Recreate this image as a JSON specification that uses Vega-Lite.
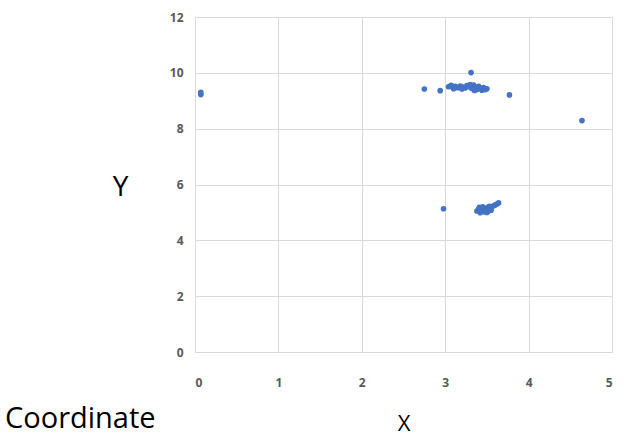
{
  "$schema": "https://vega.github.io/schema/vega-lite/v6.json",
  "width": 417,
  "height": 335,
  "autosize": {"type": "none"},
  "padding": {"left": 195, "top": 17, "right": 14, "bottom": 84},
  "background": "white",
  "config": {
    "view": {"stroke": "#d9d9d9", "strokeWidth": 1},
    "font": "Open Sans"
  },
  "title": {
    "text": "Coordinate",
    "orient": "bottom",
    "anchor": "start",
    "frame": "group",
    "dx": -190,
    "offset": -29,
    "fontSize": 29,
    "fontWeight": "normal",
    "color": "#000000",
    "font": "Open Sans"
  },
  "data": {
    "values": [
      {"x": 0.07, "y": 9.22}, {"x": 0.07, "y": 9.30},
      {"x": 2.75, "y": 9.42}, {"x": 2.94, "y": 9.36}, {"x": 3.31, "y": 10.01}, {"x": 3.77, "y": 9.21}, {"x": 4.64, "y": 8.29},
      {"x": 3.04, "y": 9.50}, {"x": 3.07, "y": 9.55}, {"x": 3.09, "y": 9.48}, {"x": 3.12, "y": 9.52}, {"x": 3.15, "y": 9.47},
      {"x": 3.18, "y": 9.53}, {"x": 3.21, "y": 9.49}, {"x": 3.24, "y": 9.46}, {"x": 3.26, "y": 9.54}, {"x": 3.29, "y": 9.50},
      {"x": 3.32, "y": 9.44}, {"x": 3.34, "y": 9.56}, {"x": 3.36, "y": 9.48}, {"x": 3.38, "y": 9.40}, {"x": 3.40, "y": 9.52},
      {"x": 3.42, "y": 9.45}, {"x": 3.44, "y": 9.38}, {"x": 3.46, "y": 9.47}, {"x": 3.48, "y": 9.40}, {"x": 3.50, "y": 9.43},
      {"x": 3.30, "y": 9.58}, {"x": 3.20, "y": 9.42}, {"x": 3.10, "y": 9.43}, {"x": 3.35, "y": 9.37},
      {"x": 2.98, "y": 5.13},
      {"x": 3.38, "y": 5.05}, {"x": 3.40, "y": 5.12}, {"x": 3.42, "y": 4.99}, {"x": 3.44, "y": 5.08}, {"x": 3.46, "y": 5.15},
      {"x": 3.47, "y": 5.02}, {"x": 3.49, "y": 5.10}, {"x": 3.51, "y": 5.18}, {"x": 3.52, "y": 5.05}, {"x": 3.54, "y": 5.13},
      {"x": 3.56, "y": 5.20}, {"x": 3.58, "y": 5.24}, {"x": 3.60, "y": 5.27}, {"x": 3.62, "y": 5.30}, {"x": 3.45, "y": 5.20},
      {"x": 3.50, "y": 5.00}, {"x": 3.41, "y": 5.18}, {"x": 3.55, "y": 5.08}, {"x": 3.64, "y": 5.34}, {"x": 3.53, "y": 5.22}
    ]
  },
  "mark": {"type": "circle", "size": 32, "opacity": 1, "color": "#4472C4"},
  "encoding": {
    "x": {
      "field": "x", "type": "quantitative",
      "scale": {"domain": [0, 5], "nice": false, "zero": true},
      "axis": {
        "values": [0, 1, 2, 3, 4, 5],
        "title": "X",
        "titleFontSize": 22,
        "titleFontWeight": "normal",
        "titleColor": "#000000",
        "titlePadding": 25,
        "labelFontSize": 12,
        "labelFontWeight": "bold",
        "labelColor": "#595959",
        "labelPadding": 25,
        "ticks": false,
        "domain": false,
        "grid": true,
        "gridColor": "#d9d9d9"
      }
    },
    "y": {
      "field": "y", "type": "quantitative",
      "scale": {"domain": [0, 12], "nice": false},
      "axis": {
        "values": [0, 2, 4, 6, 8, 10, 12],
        "title": "Y",
        "titleAngle": 0,
        "titleFontSize": 28,
        "titleFontWeight": "normal",
        "titleColor": "#000000",
        "titleX": -75,
        "titleY": 170,
        "titleAlign": "center",
        "titleBaseline": "middle",
        "labelFontSize": 12,
        "labelFontWeight": "bold",
        "labelColor": "#595959",
        "labelPadding": 12,
        "ticks": false,
        "domain": false,
        "grid": true,
        "gridColor": "#d9d9d9"
      }
    }
  }
}
